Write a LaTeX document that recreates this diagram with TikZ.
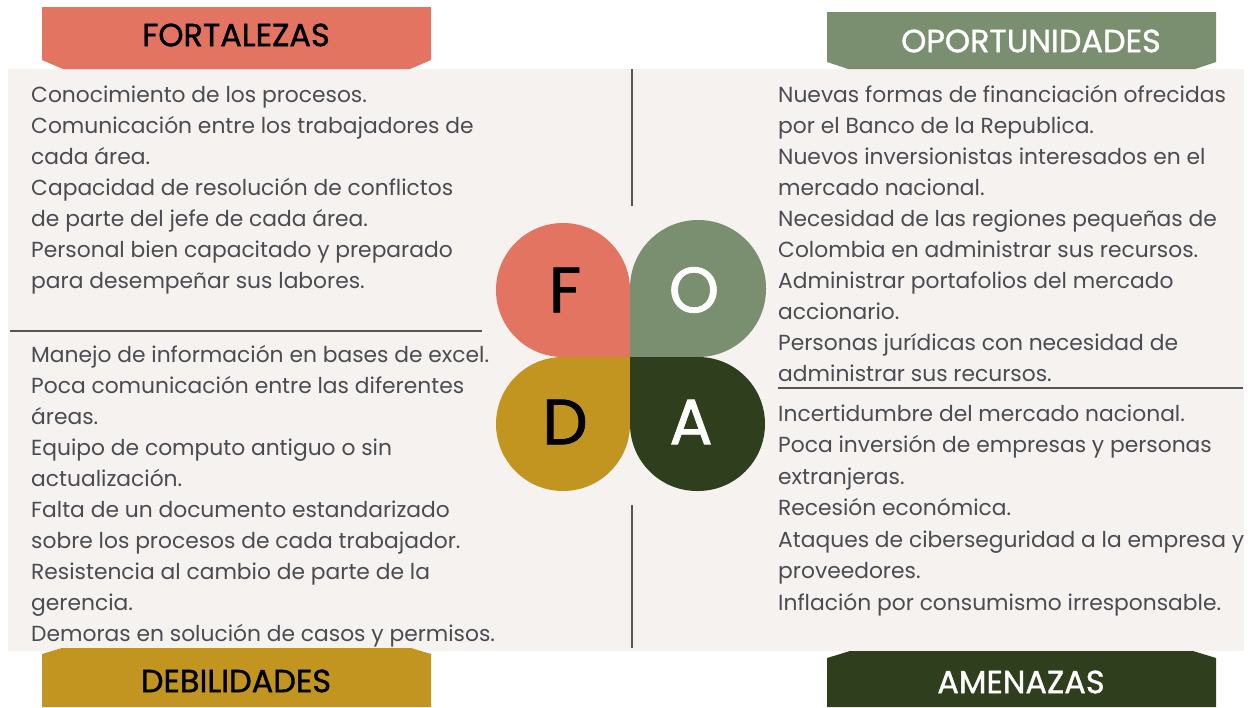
\documentclass[tikz,border=0pt]{standalone}
\usepackage{fontspec}
\setmainfont{Poppins}
\newfontfamily\headfont{Poppins}[FakeBold=1.2]
\definecolor{cF}{HTML}{E27461}
\definecolor{cO}{HTML}{7A8F70}
\definecolor{cD}{HTML}{C1951F}
\definecolor{cA}{HTML}{2F3F1D}
\definecolor{panel}{HTML}{F5F2EF}
\definecolor{txt}{HTML}{4A4C52}
\definecolor{rule}{HTML}{555555}
\tikzset{
  body/.style={anchor=base west, inner sep=0pt, align=left, text=txt,
    font=\fontsize{21.8}{31}\selectfont},
  title/.style={inner sep=0pt, font=\headfont\fontsize{32}{34}\selectfont},
  letter/.style={inner sep=0pt, font=\headfont\fontsize{64}{64}\selectfont},
  sep/.style={draw=rule, line width=2pt},
}
\begin{document}
\begin{tikzpicture}[x=1pt,y=-1pt]
\useasboundingbox (0,0) rectangle (1250,707);
\fill[white] (0,0) rectangle (1250,707);
\fill[panel] (8,69) rectangle (1244,651);
% banners
\fill[cF] (42,7) -- (431,7) -- (431,60) -- (410,69) -- (63,69) -- (42,60) -- cycle;
\fill[cO] (827,12) -- (1216,12) -- (1216,62) -- (1195,69) -- (848,69) -- (827,62) -- cycle;
\fill[cD] (42,707) -- (42,654) -- (62,648) -- (411,648) -- (431,654) -- (431,707) -- cycle;
\fill[cA] (827,707) -- (827,658) -- (850,651) -- (1193,651) -- (1216,658) -- (1216,707) -- cycle;
\node[title, text=black] (tF) at (236,35) {FORTALEZAS};
\node[title, text=white] (tO) at (1031,41) {OPORTUNIDADES};
\node[title, text=black] (tD) at (236,681) {DEBILIDADES};
\node[title, text=white] (tA) at (1021,682) {AMENAZAS};
% separators
\coordinate (v1a) at (632,69); \coordinate (v1b) at (632,206);
\coordinate (v2a) at (632,505); \coordinate (v2b) at (632,648);
\coordinate (h1a) at (10,331); \coordinate (h1b) at (482,331);
\coordinate (h2a) at (778,388); \coordinate (h2b) at (1243,388);
\draw[sep] (v1a) -- (v1b);
\draw[sep] (v2a) -- (v2b);
\draw[sep] (h1a) -- (h1b);
\draw[sep] (h2a) -- (h2b);
% petals
\fill[cF, rounded corners=67pt] (496,223) rectangle (630,357);
\fill[cF] (563,290) rectangle (630,357);
\fill[cO, rounded corners=68pt] (630,220) rectangle (766,357);
\fill[cO] (630,288) rectangle (698,357);
\fill[cD, rounded corners=67pt] (496,357) rectangle (630,491);
\fill[cD] (563,357) rectangle (630,424);
\fill[cA, rounded corners=67pt] (630,357) rectangle (765,491);
\fill[cA] (630,357) rectangle (697,424);
\node[letter, text=black] (lF) at (565,290) {F};
\node[letter, text=white] (lO) at (694,290) {O};
\node[letter, text=black] (lD) at (565,422) {D};
\node[letter, text=white] (lA) at (691,422) {A};
% texts (anchor = baseline of last line)
\node[body] (bF) at (31,288) {Conocimiento de los procesos.\\
Comunicación entre los trabajadores de\\
cada área.\\
Capacidad de resolución de conflictos\\
de parte del jefe de cada área.\\
Personal bien capacitado y preparado\\
para desempeñar sus labores.};
\node[body] (bD) at (31,641) {Manejo de información en bases de excel.\\
Poca comunicación entre las diferentes\\
áreas.\\
Equipo de computo antiguo o sin\\
actualización.\\
Falta de un documento estandarizado\\
sobre los procesos de cada trabajador.\\
Resistencia al cambio de parte de la\\
gerencia.\\
Demoras en solución de casos y permisos.};
\node[body] (bO) at (778,381) {Nuevas formas de financiación ofrecidas\\
por el Banco de la Republica.\\
Nuevos inversionistas interesados en el\\
mercado nacional.\\
Necesidad de las regiones pequeñas de\\
Colombia en administrar sus recursos.\\
Administrar portafolios del mercado\\
accionario.\\
Personas jurídicas con necesidad de\\
administrar sus recursos.};
\node[body, font=\fontsize{21.8}{31.5}\selectfont] (bA) at (778,610) {Incertidumbre del mercado nacional.\\
Poca inversión de empresas y personas\\
extranjeras.\\
Recesión económica.\\
Ataques de ciberseguridad a la empresa y\\
proveedores.\\
Inflación por consumismo irresponsable.};
\end{tikzpicture}
\end{document}
